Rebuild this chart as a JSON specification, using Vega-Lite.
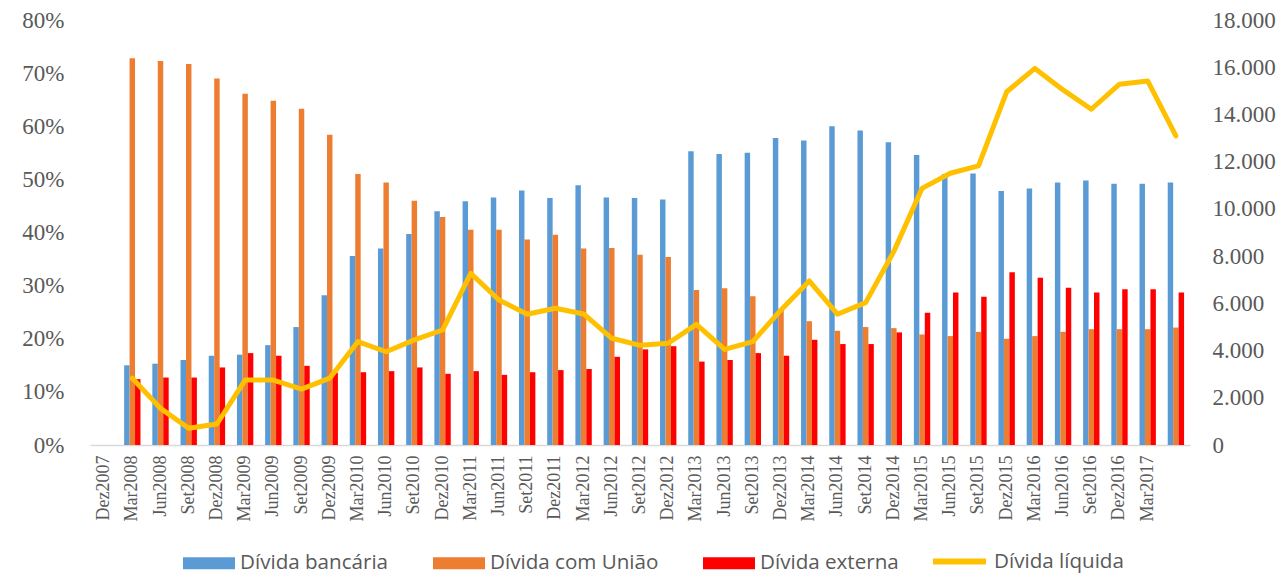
{
  "$schema": "https://vega.github.io/schema/vega-lite/v6.json",
  "width": 1100,
  "height": 425,
  "autosize": {"type": "none"},
  "padding": {"left": 90, "top": 20, "right": 91, "bottom": 131},
  "background": "white",
  "config": {
    "view": {"stroke": null},
    "axis": {"grid": false, "ticks": false, "labelColor": "#595959", "labelFont": "Liberation Serif", "title": null}
  },
  "data": {"values": [
    {"p": "Mar2008", "banc": 15.0, "uniao": 72.8, "ext": 12.4, "liq": 2830},
    {"p": "Jun2008", "banc": 15.3, "uniao": 72.3, "ext": 12.7, "liq": 1550},
    {"p": "Set2008", "banc": 16.0, "uniao": 71.7, "ext": 12.7, "liq": 710},
    {"p": "Dez2008", "banc": 16.8, "uniao": 69.0, "ext": 14.6, "liq": 890},
    {"p": "Mar2009", "banc": 17.0, "uniao": 66.1, "ext": 17.3, "liq": 2750},
    {"p": "Jun2009", "banc": 18.8, "uniao": 64.8, "ext": 16.8, "liq": 2750},
    {"p": "Set2009", "banc": 22.2, "uniao": 63.3, "ext": 14.9, "liq": 2370},
    {"p": "Dez2009", "banc": 28.2, "uniao": 58.4, "ext": 13.6, "liq": 2830},
    {"p": "Mar2010", "banc": 35.6, "uniao": 51.0, "ext": 13.7, "liq": 4380},
    {"p": "Jun2010", "banc": 37.0, "uniao": 49.4, "ext": 13.9, "liq": 3950},
    {"p": "Set2010", "banc": 39.7, "uniao": 46.0, "ext": 14.6, "liq": 4450},
    {"p": "Dez2010", "banc": 44.0, "uniao": 42.9, "ext": 13.4, "liq": 4870},
    {"p": "Mar2011", "banc": 45.9, "uniao": 40.5, "ext": 13.9, "liq": 7270},
    {"p": "Jun2011", "banc": 46.6, "uniao": 40.5, "ext": 13.2, "liq": 6140},
    {"p": "Set2011", "banc": 47.9, "uniao": 38.7, "ext": 13.7, "liq": 5540},
    {"p": "Dez2011", "banc": 46.5, "uniao": 39.6, "ext": 14.1, "liq": 5790},
    {"p": "Mar2012", "banc": 48.9, "uniao": 37.0, "ext": 14.3, "liq": 5550},
    {"p": "Jun2012", "banc": 46.6, "uniao": 37.1, "ext": 16.6, "liq": 4520},
    {"p": "Set2012", "banc": 46.5, "uniao": 35.8, "ext": 18.0, "liq": 4220},
    {"p": "Dez2012", "banc": 46.2, "uniao": 35.4, "ext": 18.6, "liq": 4310},
    {"p": "Mar2013", "banc": 55.3, "uniao": 29.2, "ext": 15.7, "liq": 5110},
    {"p": "Jun2013", "banc": 54.8, "uniao": 29.5, "ext": 16.0, "liq": 4050},
    {"p": "Set2013", "banc": 55.0, "uniao": 28.0, "ext": 17.3, "liq": 4380},
    {"p": "Dez2013", "banc": 57.8, "uniao": 25.4, "ext": 16.8, "liq": 5720},
    {"p": "Mar2014", "banc": 57.3, "uniao": 23.3, "ext": 19.8, "liq": 6950},
    {"p": "Jun2014", "banc": 60.0, "uniao": 21.5, "ext": 19.0, "liq": 5540},
    {"p": "Set2014", "banc": 59.2, "uniao": 22.2, "ext": 19.0, "liq": 6030},
    {"p": "Dez2014", "banc": 57.0, "uniao": 22.0, "ext": 21.2, "liq": 8200},
    {"p": "Mar2015", "banc": 54.6, "uniao": 20.8, "ext": 24.9, "liq": 10870},
    {"p": "Jun2015", "banc": 51.0, "uniao": 20.5, "ext": 28.7, "liq": 11510},
    {"p": "Set2015", "banc": 51.1, "uniao": 21.3, "ext": 27.9, "liq": 11820},
    {"p": "Dez2015", "banc": 47.8, "uniao": 20.0, "ext": 32.5, "liq": 14960},
    {"p": "Mar2016", "banc": 48.3, "uniao": 20.5, "ext": 31.5, "liq": 15950},
    {"p": "Jun2016", "banc": 49.4, "uniao": 21.3, "ext": 29.6, "liq": 15040},
    {"p": "Set2016", "banc": 49.8, "uniao": 21.8, "ext": 28.7, "liq": 14220},
    {"p": "Dez2016", "banc": 49.2, "uniao": 21.8, "ext": 29.3, "liq": 15280},
    {"p": "Mar2017", "banc": 49.2, "uniao": 21.8, "ext": 29.3, "liq": 15420},
    {"p": "Jun2017", "banc": 49.4, "uniao": 22.1, "ext": 28.7, "liq": 13090}
  ]},
  "layer": [
    {
      "transform": [{"fold": ["banc", "uniao", "ext"], "as": ["serie", "valor"]}],
      "mark": {"type": "bar"},
      "encoding": {
        "x": {
          "field": "p", "type": "nominal", "sort": null,
          "scale": {"domain": ["Dez2007","Mar2008","Jun2008","Set2008","Dez2008","Mar2009","Jun2009","Set2009","Dez2009","Mar2010","Jun2010","Set2010","Dez2010","Mar2011","Jun2011","Set2011","Dez2011","Mar2012","Jun2012","Set2012","Dez2012","Mar2013","Jun2013","Set2013","Dez2013","Mar2014","Jun2014","Set2014","Dez2014","Mar2015","Jun2015","Set2015","Dez2015","Mar2016","Jun2016","Set2016","Dez2016","Mar2017","Jun2017"], "paddingInner": 0.42, "paddingOuter": 0.21},
          "axis": {"labelAngle": 270, "labelFontSize": 18, "labelPadding": 10, "domainColor": "#D9D9D9", "domainWidth": 1.5, "labelExpr": "datum.value == 'Jun2017' ? '' : datum.value"}
        },
        "xOffset": {"field": "serie", "scale": {"domain": ["banc", "uniao", "ext"]}},
        "y": {
          "field": "valor", "type": "quantitative",
          "scale": {"domain": [0, 80], "nice": false},
          "axis": {"values": [0,10,20,30,40,50,60,70,80], "labelExpr": "datum.value + '%'", "domain": false, "labelFontSize": 23, "labelPadding": 26}
        },
        "color": {
          "field": "serie",
          "scale": {"domain": ["banc", "uniao", "ext"], "range": ["#5B9BD5", "#ED7D31", "#FF0000"]},
          "legend": {"orient": "none", "legendX": 93, "legendY": 517, "direction": "horizontal", "title": null, "padding": 0,
            "symbolType": "M-1,-0.23H1V0.23H-1Z", "symbolSize": 2704, "symbolStrokeWidth": 0,
            "labelExpr": "datum.value == 'banc' ? 'Dívida bancária' : datum.value == 'uniao' ? 'Dívida com União' : 'Dívida externa'",
            "labelFont": "Open Sans", "labelFontSize": 20.6, "labelColor": "#595959", "labelOffset": 5, "labelLimit": 400, "columnPadding": 44}
        }
      }
    },
    {
      "mark": {"type": "line", "strokeWidth": 5, "strokeCap": "round", "strokeJoin": "round"},
      "encoding": {
        "x": {"field": "p", "type": "nominal", "sort": null},
        "y": {
          "field": "liq", "type": "quantitative",
          "scale": {"domain": [0, 18000], "nice": false},
          "axis": {"orient": "right", "values": [0,2000,4000,6000,8000,10000,12000,14000,16000,18000], "labelExpr": "replace(format(datum.value, ','), ',', '.')", "domain": false, "labelFontSize": 23, "labelPadding": 22}
        },
        "stroke": {
          "datum": "liq",
          "scale": {"domain": ["liq"], "range": ["#FFC000"]},
          "legend": {"orient": "none", "legendX": 840, "legendY": 512, "title": null, "padding": 0,
            "symbolType": "stroke", "symbolSize": 2809, "symbolStrokeWidth": 6,
            "labelExpr": "'Dívida líquida'",
            "labelFont": "Open Sans", "labelFontSize": 20.6, "labelColor": "#595959", "labelOffset": 5, "labelLimit": 400}
        }
      }
    }
  ],
  "resolve": {"scale": {"y": "independent"}}
}
